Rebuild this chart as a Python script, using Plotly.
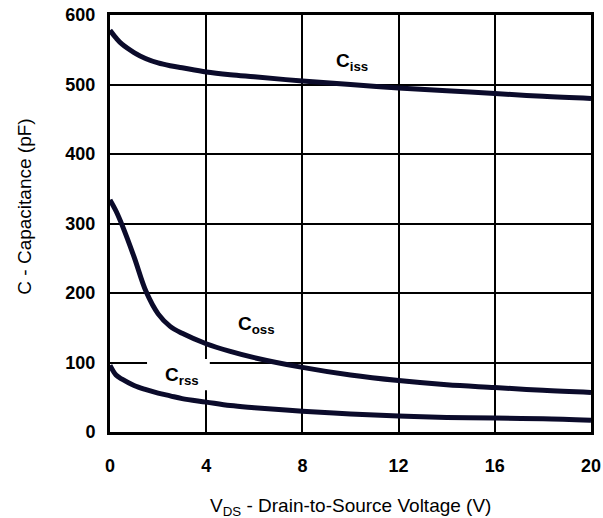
import plotly.graph_objects as go

vds = [0, 0.25, 0.5, 1, 1.5, 2, 2.5, 3, 4, 5, 6, 8, 10, 12, 14, 16, 18, 20]
ciss = [578, 567, 558, 546, 537, 531, 527, 524, 518, 514, 511, 505, 500, 495, 491, 487, 483, 480]
coss = [334, 318, 298, 252, 202, 170, 152, 142, 127, 116, 107, 93, 82, 74, 68, 64, 60, 57]
crss = [96, 82, 76, 67, 61, 56, 52, 48, 43, 38, 35, 30, 26, 23, 21, 20, 19, 17]

x_ticks = [0, 4, 8, 12, 16, 20]
y_ticks = [0, 100, 200, 300, 400, 500, 600]

line_color = "#0b0b2b"
font_family = "Liberation Sans, Arial, sans-serif"

fig = go.Figure()
for name, ys in [("Ciss", ciss), ("Coss", coss), ("Crss", crss)]:
    fig.add_trace(go.Scatter(x=vds, y=ys, mode="lines", name=name,
                             line=dict(color=line_color, width=5, shape="spline", smoothing=1.0),
                             showlegend=False, hoverinfo="skip"))

fig.update_layout(
    width=603, height=518,
    margin=dict(l=110, r=12, t=15, b=86),
    paper_bgcolor="white", plot_bgcolor="white",
    font=dict(family=font_family, color="black"),
)
fig.update_xaxes(range=[0, 20], tickvals=x_ticks, ticktext=[str(v) for v in x_ticks],
                 showgrid=True, gridcolor="black", gridwidth=2, zeroline=False,
                 showline=True, linecolor="black", linewidth=3, mirror=True,
                 ticks="", tickfont=dict(size=18, family=font_family, weight="bold"),
                 ticklabelstandoff=15, automargin=False)
fig.update_yaxes(range=[0, 600], tickvals=y_ticks, ticktext=[str(v) for v in y_ticks],
                 showgrid=True, gridcolor="black", gridwidth=2, zeroline=False,
                 showline=True, linecolor="black", linewidth=3, mirror=True,
                 ticks="", tickfont=dict(size=18, family=font_family, weight="bold"),
                 ticklabelstandoff=8, automargin=False)

# axis titles as annotations for exact placement
fig.add_annotation(xref="paper", yref="paper", x=0.5, y=-0.18, yanchor="middle",
                   text="V<sub>DS</sub> - Drain-to-Source Voltage (V)", showarrow=False,
                   font=dict(size=19, family=font_family, color="black"))
fig.add_annotation(xref="paper", yref="paper", x=-0.177, xanchor="center", y=0.54, yanchor="middle",
                   text="C - Capacitance (pF)", textangle=-90, showarrow=False,
                   font=dict(size=19, family=font_family, color="black"))

# white box behind the Crss label (covers gridlines, stays under curves)
fig.add_shape(type="rect", x0=1.54, x1=4.15, y0=60, y1=105, layer="between",
              fillcolor="white", line=dict(width=0))

ann_font = dict(size=19, family=font_family, color="black", weight="bold")
fig.add_annotation(x=10.06, y=532, text="C<sub>iss</sub>", showarrow=False, font=ann_font)
fig.add_annotation(x=6.1, y=154, text="C<sub>oss</sub>", showarrow=False, font=ann_font)
fig.add_annotation(x=2.99, y=80, text="C<sub>rss</sub>", showarrow=False, font=ann_font)

fig.write_html("out.html", config={"displayModeBar": False},
               post_script="document.body.style.margin='0';")
